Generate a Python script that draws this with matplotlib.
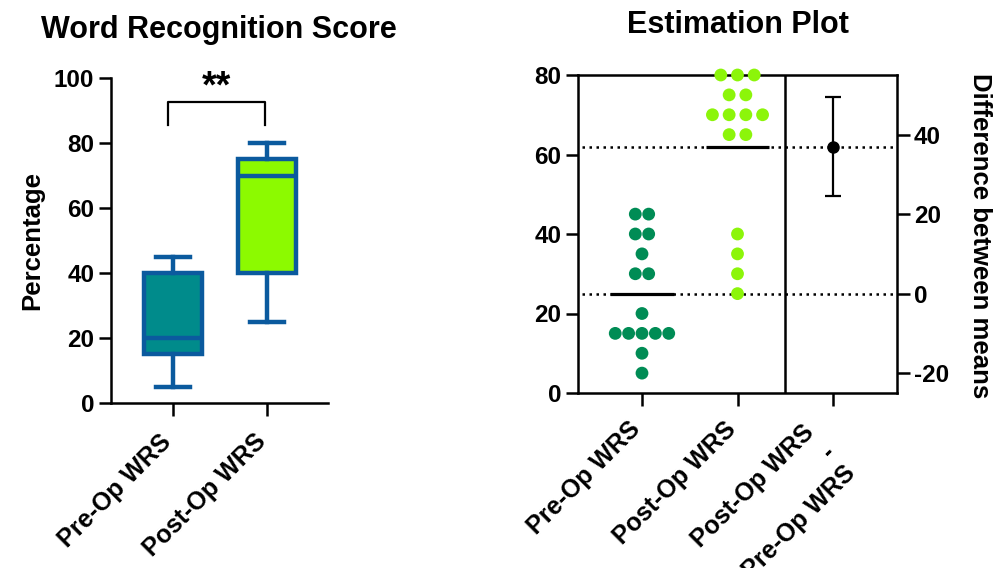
import numpy as np
import matplotlib
matplotlib.use('Agg')
import matplotlib.pyplot as plt
import matplotlib.transforms as mtransforms

plt.rcParams['font.family'] = ['Liberation Sans', 'DejaVu Sans']
plt.rcParams['font.weight'] = 'bold'
plt.rcParams['axes.unicode_minus'] = False

# ---------------- data ----------------
categories = ['Pre-Op WRS', 'Post-Op WRS']
diff_label = 'Post-Op WRS\n-\nPre-Op WRS'
pre_wrs = [5, 10, 15, 15, 15, 15, 15, 20, 30, 30, 35, 40, 40, 45, 45]
post_wrs = [25, 30, 35, 40, 65, 65, 70, 70, 70, 70, 75, 75, 80, 80, 80]
diff_ci = [24.6, 49.4]
significance = '**'
left_yticks = [0, 20, 40, 60, 80, 100]
est_yticks = [0, 20, 40, 60, 80]
diff_yticks = [-20, 0, 20, 40]
title_left = 'Word Recognition Score'
title_right = 'Estimation Plot'
ylabel_left = 'Percentage'
ylabel_right = 'Difference between means'

# ---------------- style ----------------
box_fill = ['#008B8B', '#8CFA00']
box_edge = '#0B5A9E'
dot_colors = ['#008C55', '#8CF50A']
dot_spacing = [0.14, 0.175]
W, H = 1004, 568
LW = 1.8
TICK_FS = 17.5
XTICK_FS = 18
LABEL_FS = 18.5
TITLE_FS = 22

fig = plt.figure(figsize=(W / 100, H / 100), dpi=100)

def style_axes(ax, xpad):
    ax.tick_params(axis='both', length=9, width=LW, labelsize=TICK_FS)
    ax.tick_params(axis='y', pad=3)
    ax.tick_params(axis='x', pad=xpad, labelsize=XTICK_FS)
    for s in ax.spines.values():
        s.set_linewidth(LW)

# ---------------- left: box plot ----------------
ax1 = fig.add_axes([111 / W, 1 - 403 / H, 217 / W, 325 / H])
stats = []
for name, d in zip(categories, [pre_wrs, post_wrs]):
    q1, med, q3 = np.percentile(d, [25, 50, 75], method='weibull')
    stats.append(dict(label=name, med=med, q1=q1, q3=q3,
                      whislo=min(d), whishi=max(d), fliers=[]))
bp = ax1.bxp(stats, positions=[0, 1], widths=0.62, patch_artist=True,
             showfliers=False, capwidths=0.37,
             boxprops=dict(linewidth=3.2, edgecolor=box_edge),
             whiskerprops=dict(linewidth=3.2, color=box_edge),
             capprops=dict(linewidth=3.2, color=box_edge),
             medianprops=dict(linewidth=3.2, color=box_edge))
for patch, c in zip(bp['boxes'], box_fill):
    patch.set_facecolor(c)
    patch.set_edgecolor(box_edge)

ax1.set_xlim(-0.66, 1.65)
ax1.set_ylim(0, 100)
ax1.set_yticks(left_yticks)
ax1.set_xticks([0, 1])
ax1.set_xticklabels(categories, rotation=45, ha='right', va='baseline',
                    rotation_mode='anchor')
ax1.spines['top'].set_visible(False)
ax1.spines['right'].set_visible(False)
style_axes(ax1, 19.8)
ax1.set_ylabel(ylabel_left, fontsize=LABEL_FS, fontweight='bold', va='center')
ax1.yaxis.set_label_coords(-0.364, 0.5)

# significance bracket
ax1.plot([-0.05, -0.05, 0.98, 0.98], [85.5, 92.5, 92.5, 85.5],
         color='black', lw=1.6, clip_on=False)
ax1.text(0.465, 94, significance, ha='center', va='baseline',
         fontsize=27, fontweight='bold')

fig.text(219 / W, 1 - 30 / H, title_left, ha='center', va='center',
         fontsize=TITLE_FS, fontweight='bold')

# ---------------- right: estimation plot ----------------
ax2 = fig.add_axes([578 / W, 1 - 393 / H, 319 / W, 318 / H])
groups = [pre_wrs, post_wrs]
means = [float(np.mean(g)) for g in groups]
for i, g in enumerate(groups):
    vals, counts = np.unique(g, return_counts=True)
    xs, ys = [], []
    for v, k in zip(vals, counts):
        offs = (np.arange(k) - (k - 1) / 2) * dot_spacing[i]
        xs.extend(i + offs)
        ys.extend([v] * k)
    ax2.scatter(xs, ys, s=85, color=dot_colors[i], edgecolors='none',
                zorder=4, clip_on=False)
    ax2.hlines(means[i], i - 0.33, i + 0.33, color='black', lw=2.3, zorder=3)

ax2.hlines(means, -0.63, 2.67, colors='black', lw=1.8,
           linestyles=[(0, (1, 1.8))], zorder=2)
ax2.axvline(1.5, color='black', lw=LW, zorder=2)
ax2.set_xlim(-0.67, 2.67)
ax2.set_ylim(0, 80)
ax2.set_yticks(est_yticks)
ax2.set_xticks([0, 1, 2])
ax2.set_xticklabels(categories + [diff_label], rotation=45, ha='right',
                    va='baseline', rotation_mode='anchor',
                    multialignment='right', linespacing=1.25)
style_axes(ax2, 18.2)
ax2.spines['right'].set_visible(False)

ax3 = ax2.twinx()
lo, hi = ax2.get_ylim()
ax3.set_ylim(lo - means[0], hi - means[0])
ax3.set_yticks(diff_yticks)
diff = means[1] - means[0]
ax3.errorbar([2], [diff], yerr=[[diff - diff_ci[0]], [diff_ci[1] - diff]],
             fmt='o', color='black', ms=8, capsize=5.5, elinewidth=1.6,
             capthick=1.6, zorder=5)
style_axes(ax3, 3)
ax3.spines['left'].set_visible(False)
ax3.spines['top'].set_visible(False)
ax3.spines['bottom'].set_visible(False)
ax3.set_ylabel(ylabel_right, fontsize=LABEL_FS, fontweight='bold',
               rotation=270, va='center')
ax3.yaxis.set_label_coords(1.26, 0.494)

# shift the multi-line difference label down-right as in the reference
lab = ax2.get_xticklabels()[2]
lab.set_transform(lab.get_transform() +
                  mtransforms.ScaledTranslation(14.4 / 72, -28.8 / 72,
                                                fig.dpi_scale_trans))

fig.text(737.5 / W, 1 - 25 / H, title_right, ha='center', va='center',
         fontsize=TITLE_FS, fontweight='bold')

fig.savefig('out.png', dpi=100, facecolor='white')
